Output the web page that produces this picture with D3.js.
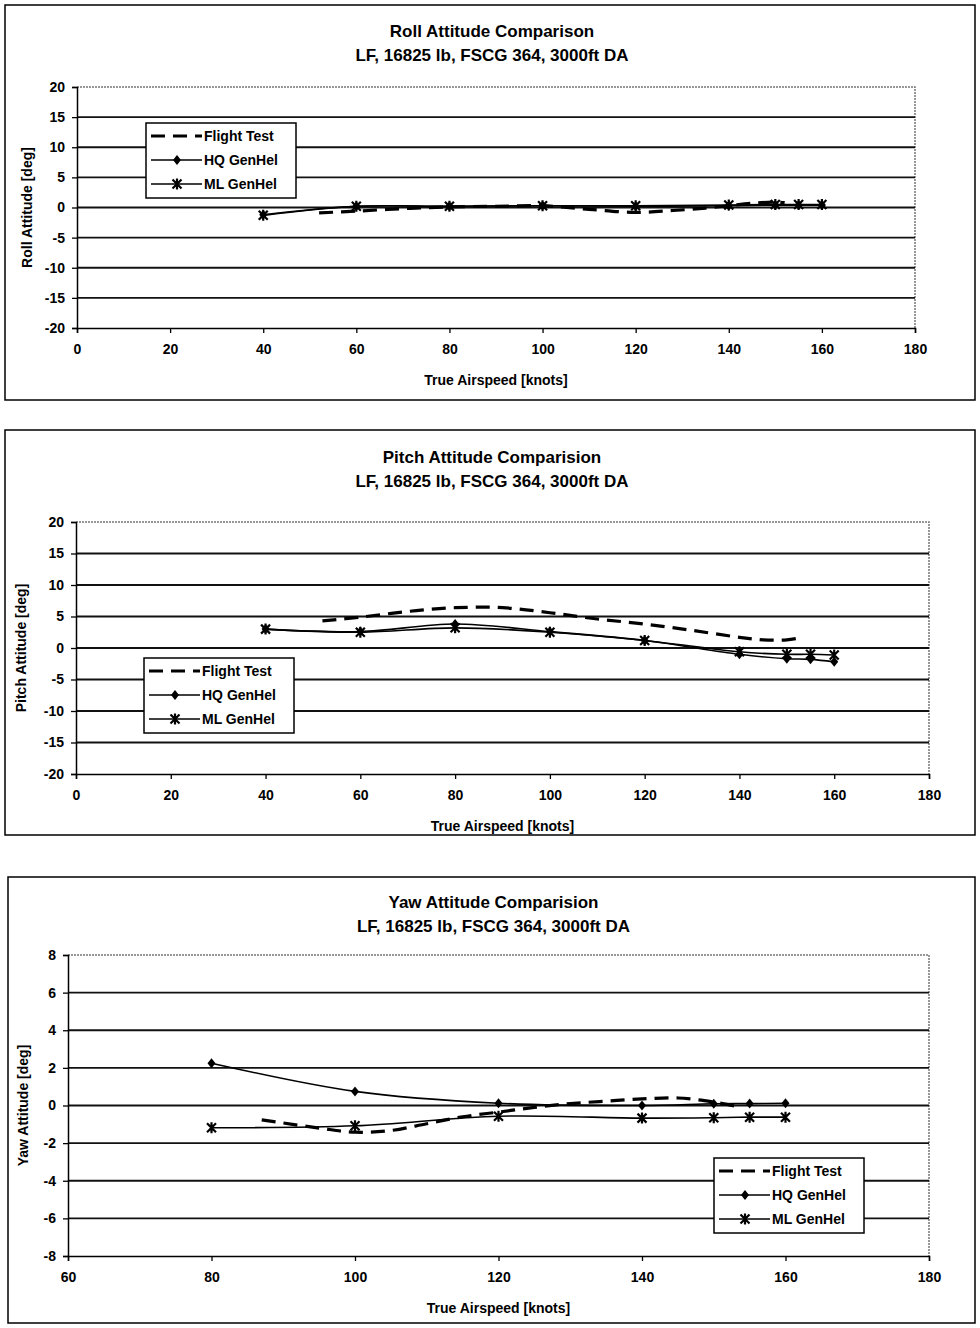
<!DOCTYPE html>
<html>
<head>
<meta charset="utf-8">
<script src="https://cdn.jsdelivr.net/npm/d3@7"></script>
<style>
  body { margin: 0; background: #fff; }
  svg { display: block; font-family: "Liberation Sans", Arial, sans-serif; }
</style>
</head>
<body>
<svg id="chart" width="980" height="1328"></svg>
<script>
// speeds for the simulation runs
const simSpeeds = [40, 60, 80, 100, 120, 140, 150, 155, 160];
const yawSimSpeeds = [80, 100, 120, 140, 150, 155, 160];

// roll
const rollHQ = [-1.2, 0.2, 0.2, 0.3, 0.2, 0.3, 0.4, 0.4, 0.4];
const rollML = [-1.3, 0.2, 0.2, 0.3, 0.3, 0.4, 0.5, 0.5, 0.5];
const rollFTSpeeds = [52, 60, 70, 80, 90, 100, 110, 120, 128, 135, 140, 145, 150, 152];
const rollFT = [-0.9, -0.6, -0.2, 0.1, 0.2, 0.3, -0.3, -0.8, -0.5, -0.1, 0.3, 0.7, 0.9, 0.8];

// pitch
const pitchHQ = [3.0, 2.6, 3.8, 2.6, 1.2, -1.0, -1.7, -1.8, -2.2];
const pitchML = [3.0, 2.5, 3.2, 2.5, 1.2, -0.6, -1.0, -1.0, -1.1];
const pitchFTSpeeds = [52, 60, 70, 80, 90, 100, 110, 120, 130, 140, 145, 150, 152];
const pitchFT = [4.3, 4.9, 5.8, 6.4, 6.4, 5.6, 4.6, 3.8, 2.8, 1.7, 1.3, 1.3, 1.5];

// yaw
const yawHQ = [2.25, 0.75, 0.12, 0.0, 0.09, 0.1, 0.12];
const yawML = [-1.18, -1.08, -0.57, -0.67, -0.65, -0.62, -0.62];
const yawFTSpeeds = [87, 95, 100, 105, 110, 115, 120, 125, 130, 135, 140, 145, 150, 153];
const yawFT = [-0.76, -1.2, -1.42, -1.33, -0.97, -0.6, -0.35, -0.1, 0.1, 0.23, 0.35, 0.4, 0.18, -0.03];

const subtitle = "LF, 16825 lb, FSCG 364, 3000ft DA";
const seriesNames = ["Flight Test", "HQ GenHel", "ML GenHel"];
const xTitle = "True Airspeed [knots]";

const svg = d3.select("#chart");

function zip(xs, ys) {
  return xs.map((x, i) => ({x: x, y: ys[i]}));
}

function diamond(g, x, y) {
  g.append("path")
    .attr("d", `M${x},${y - 5}L${x + 4},${y}L${x},${y + 5}L${x - 4},${y}Z`)
    .attr("fill", "#000");
}

function star(g, x, y) {
  const r = 4.5;
  g.append("path")
    .attr("d", `M${x - r},${y - r}L${x + r},${y + r}M${x - r},${y + r}L${x + r},${y - r}M${x},${y - r - 1}L${x},${y + r + 1}`)
    .attr("stroke", "#000").attr("stroke-width", 2.2).attr("fill", "none");
}

function drawChart(c) {
  const root = svg.append("g");

  // outer frame
  root.append("rect")
    .attr("x", c.box[0]).attr("y", c.box[1])
    .attr("width", c.box[2] - c.box[0]).attr("height", c.box[3] - c.box[1])
    .attr("fill", "none").attr("stroke", "#000").attr("stroke-width", 1.5);

  const x = d3.scaleLinear().domain(c.xDomain).range([c.plot.left, c.plot.right]);
  const y = d3.scaleLinear().domain(c.yDomain).range([c.plot.bottom, c.plot.top]);

  const cx = (c.box[0] + c.box[2]) / 2 + 2;
  root.append("text").attr("x", cx).attr("y", c.titleY)
    .attr("text-anchor", "middle").attr("font-size", 17).attr("font-weight", "bold")
    .text(c.title);
  root.append("text").attr("x", cx).attr("y", c.titleY + 24)
    .attr("text-anchor", "middle").attr("font-size", 17).attr("font-weight", "bold")
    .text(subtitle);

  // dotted plot border top / right
  root.append("path")
    .attr("d", `M${c.plot.left},${c.plot.top}H${c.plot.right}V${c.plot.bottom}`)
    .attr("fill", "none").attr("stroke", "#777").attr("stroke-width", 1.5)
    .attr("stroke-dasharray", "2,1");

  // gridlines
  const yTicks = d3.range(c.yDomain[0], c.yDomain[1] + 0.001, c.yStep);
  root.append("g").selectAll("line")
    .data(yTicks.filter(t => t > c.yDomain[0] && t < c.yDomain[1]))
    .join("line")
    .attr("x1", c.plot.left).attr("x2", c.plot.right)
    .attr("y1", d => y(d)).attr("y2", d => y(d))
    .attr("stroke", "#111").attr("stroke-width", 1.8);

  // axes (plain hyphen for negatives, like the original)
  const fmt = d => String(d);
  const yAxis = d3.axisLeft(y).tickValues(yTicks).tickSize(5).tickPadding(7).tickFormat(fmt);
  const gy = root.append("g").attr("transform", `translate(${c.plot.left},0)`).call(yAxis);
  const xTicks = d3.range(c.xDomain[0], c.xDomain[1] + 0.001, 20);
  const xAxis = d3.axisBottom(x).tickValues(xTicks).tickSize(5).tickPadding(11).tickFormat(fmt);
  const gx = root.append("g").attr("transform", `translate(0,${c.plot.bottom})`).call(xAxis);
  [gx, gy].forEach(g => {
    g.select(".domain").attr("stroke", "#000").attr("stroke-width", 1.5);
    g.selectAll(".tick line").attr("stroke", "#000").attr("stroke-width", 1.3);
    g.selectAll("text").attr("font-size", 14).attr("font-weight", "bold")
      .attr("font-family", "Liberation Sans, Arial, sans-serif").attr("fill", "#000");
  });

  root.append("text")
    .attr("x", (c.plot.left + c.plot.right) / 2).attr("y", c.plot.bottom + 57)
    .attr("text-anchor", "middle").attr("font-size", 14).attr("font-weight", "bold")
    .text(xTitle);
  root.append("text")
    .attr("transform", `translate(${c.yTitleX},${(c.plot.top + c.plot.bottom) / 2}) rotate(-90)`)
    .attr("text-anchor", "middle").attr("font-size", 14).attr("font-weight", "bold")
    .text(c.yTitle);

  const line = d3.line().x(d => x(d.x)).y(d => y(d.y)).curve(d3.curveCatmullRom.alpha(0.5));

  const hq = zip(c.simX, c.hq);
  const ml = zip(c.simX, c.ml);
  const ft = zip(c.ftX, c.ft);

  root.append("path").datum(ml).attr("d", line)
    .attr("fill", "none").attr("stroke", "#000").attr("stroke-width", 1.6);
  root.append("path").datum(hq).attr("d", line)
    .attr("fill", "none").attr("stroke", "#000").attr("stroke-width", 1.6);
  root.append("path").datum(ft).attr("d", line)
    .attr("fill", "none").attr("stroke", "#000").attr("stroke-width", 3.2)
    .attr("stroke-dasharray", "14,8");

  const mk = root.append("g");
  hq.forEach(d => diamond(mk, x(d.x), y(d.y)));
  ml.forEach(d => star(mk, x(d.x), y(d.y)));

  // legend
  const L = c.legend;
  const lg = root.append("g");
  lg.append("rect").attr("x", L[0]).attr("y", L[1]).attr("width", 150).attr("height", 75)
    .attr("fill", "#fff").attr("stroke", "#000").attr("stroke-width", 1.5);
  seriesNames.forEach((name, i) => {
    const ly = L[1] + 13 + i * 24;
    const l = lg.append("line").attr("x1", L[0] + 5).attr("x2", L[0] + 56)
      .attr("y1", ly).attr("y2", ly).attr("stroke", "#000");
    if (i === 0) {
      l.attr("stroke-width", 3.2).attr("stroke-dasharray", "14,8");
    } else {
      l.attr("stroke-width", 1.6);
      if (i === 1) diamond(lg, L[0] + 31, ly); else star(lg, L[0] + 31, ly);
    }
    lg.append("text").attr("x", L[0] + 58).attr("y", ly + 5)
      .attr("font-size", 14).attr("font-weight", "bold").text(name);
  });
}

drawChart({
  box: [5, 5, 975, 400], titleY: 37,
  plot: {left: 77, right: 915, top: 87, bottom: 328},
  xDomain: [0, 180], yDomain: [-20, 20], yStep: 5,
  title: "Roll Attitude Comparison", yTitle: "Roll Attitude [deg]", yTitleX: 32,
  simX: simSpeeds, hq: rollHQ, ml: rollML, ftX: rollFTSpeeds, ft: rollFT,
  legend: [146, 123]
});

drawChart({
  box: [5, 430, 975, 835], titleY: 463,
  plot: {left: 76, right: 929, top: 522, bottom: 774},
  xDomain: [0, 180], yDomain: [-20, 20], yStep: 5,
  title: "Pitch Attitude Comparision", yTitle: "Pitch Attitude [deg]", yTitleX: 26,
  simX: simSpeeds, hq: pitchHQ, ml: pitchML, ftX: pitchFTSpeeds, ft: pitchFT,
  legend: [144, 658]
});

drawChart({
  box: [8, 877, 975, 1323], titleY: 908,
  plot: {left: 68, right: 929, top: 955, bottom: 1256},
  xDomain: [60, 180], yDomain: [-8, 8], yStep: 2,
  title: "Yaw Attitude Comparision", yTitle: "Yaw Attitude [deg]", yTitleX: 28,
  simX: yawSimSpeeds, hq: yawHQ, ml: yawML, ftX: yawFTSpeeds, ft: yawFT,
  legend: [714, 1158]
});
</script>
</body>
</html>
